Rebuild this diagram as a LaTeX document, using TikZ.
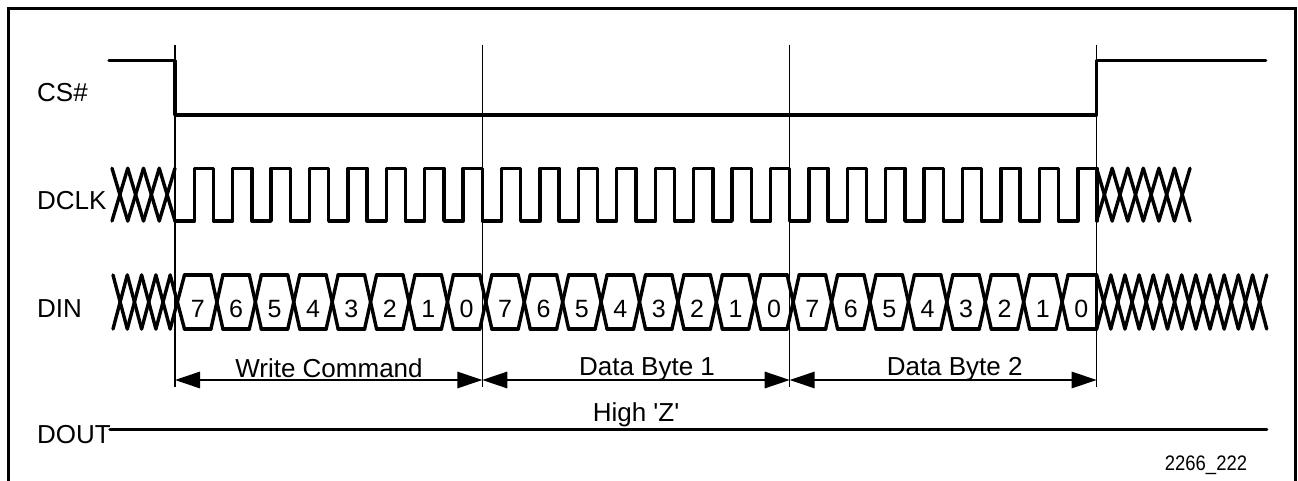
\documentclass[tikz,border=0pt]{standalone}
\usepackage{fontspec}
\setmainfont{Liberation Sans}
\newfontfamily\narrowfnt[FakeStretch=0.88]{Liberation Sans}
\usetikzlibrary{arrows.meta}
\newcommand\XZone[5]{%
  \pgfmathsetmacro\xzw{(#2-#1)/#3}%
  \pgfmathtruncatemacro\xzn{#3-1}%
  \foreach \i in {0,...,\xzn}{%
    \draw[sig] ({#1+\i*\xzw},#4) -- ({#1+(\i+1)*\xzw},#5);
    \draw[sig] ({#1+\i*\xzw},#5) -- ({#1+(\i+1)*\xzw},#4);
  }}
\tikzset{
  sig/.style={line width=3.4pt, line cap=round, line join=round},
  marker/.style={line width=1.4pt},
  frame/.style={line width=2.7pt},
  lbl/.style={font=\fontsize{26}{30}\selectfont, anchor=base west, inner sep=0pt},
  ctr/.style={font=\fontsize{26}{30}\selectfont, anchor=base, inner sep=0pt},
  dig/.style={font=\fontsize{25}{28}\selectfont, anchor=base, inner sep=0pt},
  dim/.style={line width=1.5pt, {Triangle[length=25pt,width=16.5pt]}-{Triangle[length=25pt,width=16.5pt]}}
}
\begin{document}
\begin{tikzpicture}[x=1pt,y=-1pt]
\useasboundingbox (0,0) rectangle (1298,481);
\def\bw{38.4167}
\def\hb{19.2083}
% frame
\coordinate (f1) at (8.5,495);
\coordinate (f2) at (8.5,8.5);
\coordinate (f3) at (1295.5,8.5);
\coordinate (f4) at (1295.5,495);
\draw[frame] (f1) -- (f2) -- (f3) -- (f4);
% marker lines and arrow ends
\foreach \k/\x in {0/175,1/482.3,2/789.7,3/1096.6}{
  \coordinate (vt\k) at (\x,45);
  \coordinate (vb\k) at (\x,387);
  \coordinate (ar\k) at (\x,380);
  \draw[marker] (vt\k) -- (vb\k);
}
% labels
\node[lbl] (lcs) at (37,101.7) {CS\#};
\node[lbl] (lclk) at (37,210) {DCLK};
\node[lbl] (ldin) at (37,317.3) {DIN};
\node[lbl] (ldout) at (37,443) {DOUT};
% CS#
\coordinate (cs0) at (109,60.7);
\coordinate (cs1) at (175,60.7);
\coordinate (cs2) at (175,115);
\coordinate (cs3) at (1096.6,115);
\coordinate (cs4) at (1096.6,60.7);
\coordinate (cs5) at (1265.7,60.7);
\draw[sig] (cs0) -- (cs1) -- (cs2) -- (cs3) -- (cs4) -- (cs5);
% DCLK
\XZone{112}{175}{4}{168.3}{221}
\XZone{1096.6}{1190}{6}{168.3}{221}
\coordinate (clk0) at (175,221);
\draw[sig] (clk0) \foreach \k in {1,...,24}{ -- ++(\hb,0) -- ++(0,-52.7) -- ++(\hb,0) -- ++(0,52.7)};
% DIN
\XZone{113}{184.5}{5}{275}{329}
\XZone{1096.6}{1266.7}{12}{275}{329}
\foreach \k in {0,...,23}{
  \pgfmathsetmacro\cl{\k==0 ? 184.5 : 175+\k*\bw+9.5}
  \pgfmathsetmacro\cr{\k==23 ? 1096.6 : 175+(\k+1)*\bw-2.5}
  \draw[sig] (\cl,275) -- (\cr,275);
  \draw[sig] (\cl,329) -- (\cr,329);
  \pgfmathtruncatemacro\dg{7-mod(\k,8)}
  \node[dig] (d\k) at ({175+\k*\bw+22.7},317.5) {\dg};
}
\foreach \k in {1,...,23}{
  \pgfmathsetmacro\cc{175+\k*\bw+3.5}
  \draw[sig] ({\cc-6},275) -- ({\cc+6},329);
  \draw[sig] ({\cc-6},329) -- ({\cc+6},275);
}
\coordinate (e1) at (1096.6,275);
\coordinate (e2) at (1096.6,329);
\draw[sig] (e1) -- (e2);
% dimension arrows
\draw[dim] (ar0) -- (ar1);
\draw[dim] (ar1) -- (ar2);
\draw[dim] (ar2) -- (ar3);
\node[ctr] (t1) at (329,377) {Write Command};
\node[ctr] (t2) at (647,375) {Data Byte 1};
\node[ctr] (t3) at (954.7,375) {Data Byte 2};
% DOUT
\coordinate (do0) at (110,429.3);
\coordinate (do1) at (1266.7,429.3);
\draw[sig] (do0) -- (do1);
\node[ctr] (hz) at (636,421.7) {High \textquotesingle Z\textquotesingle};
\node[font=\narrowfnt\fontsize{21}{24}\selectfont, anchor=base east, inner sep=0pt] (fig) at (1247.3,470) {2266\_222};
\end{tikzpicture}
\end{document}
